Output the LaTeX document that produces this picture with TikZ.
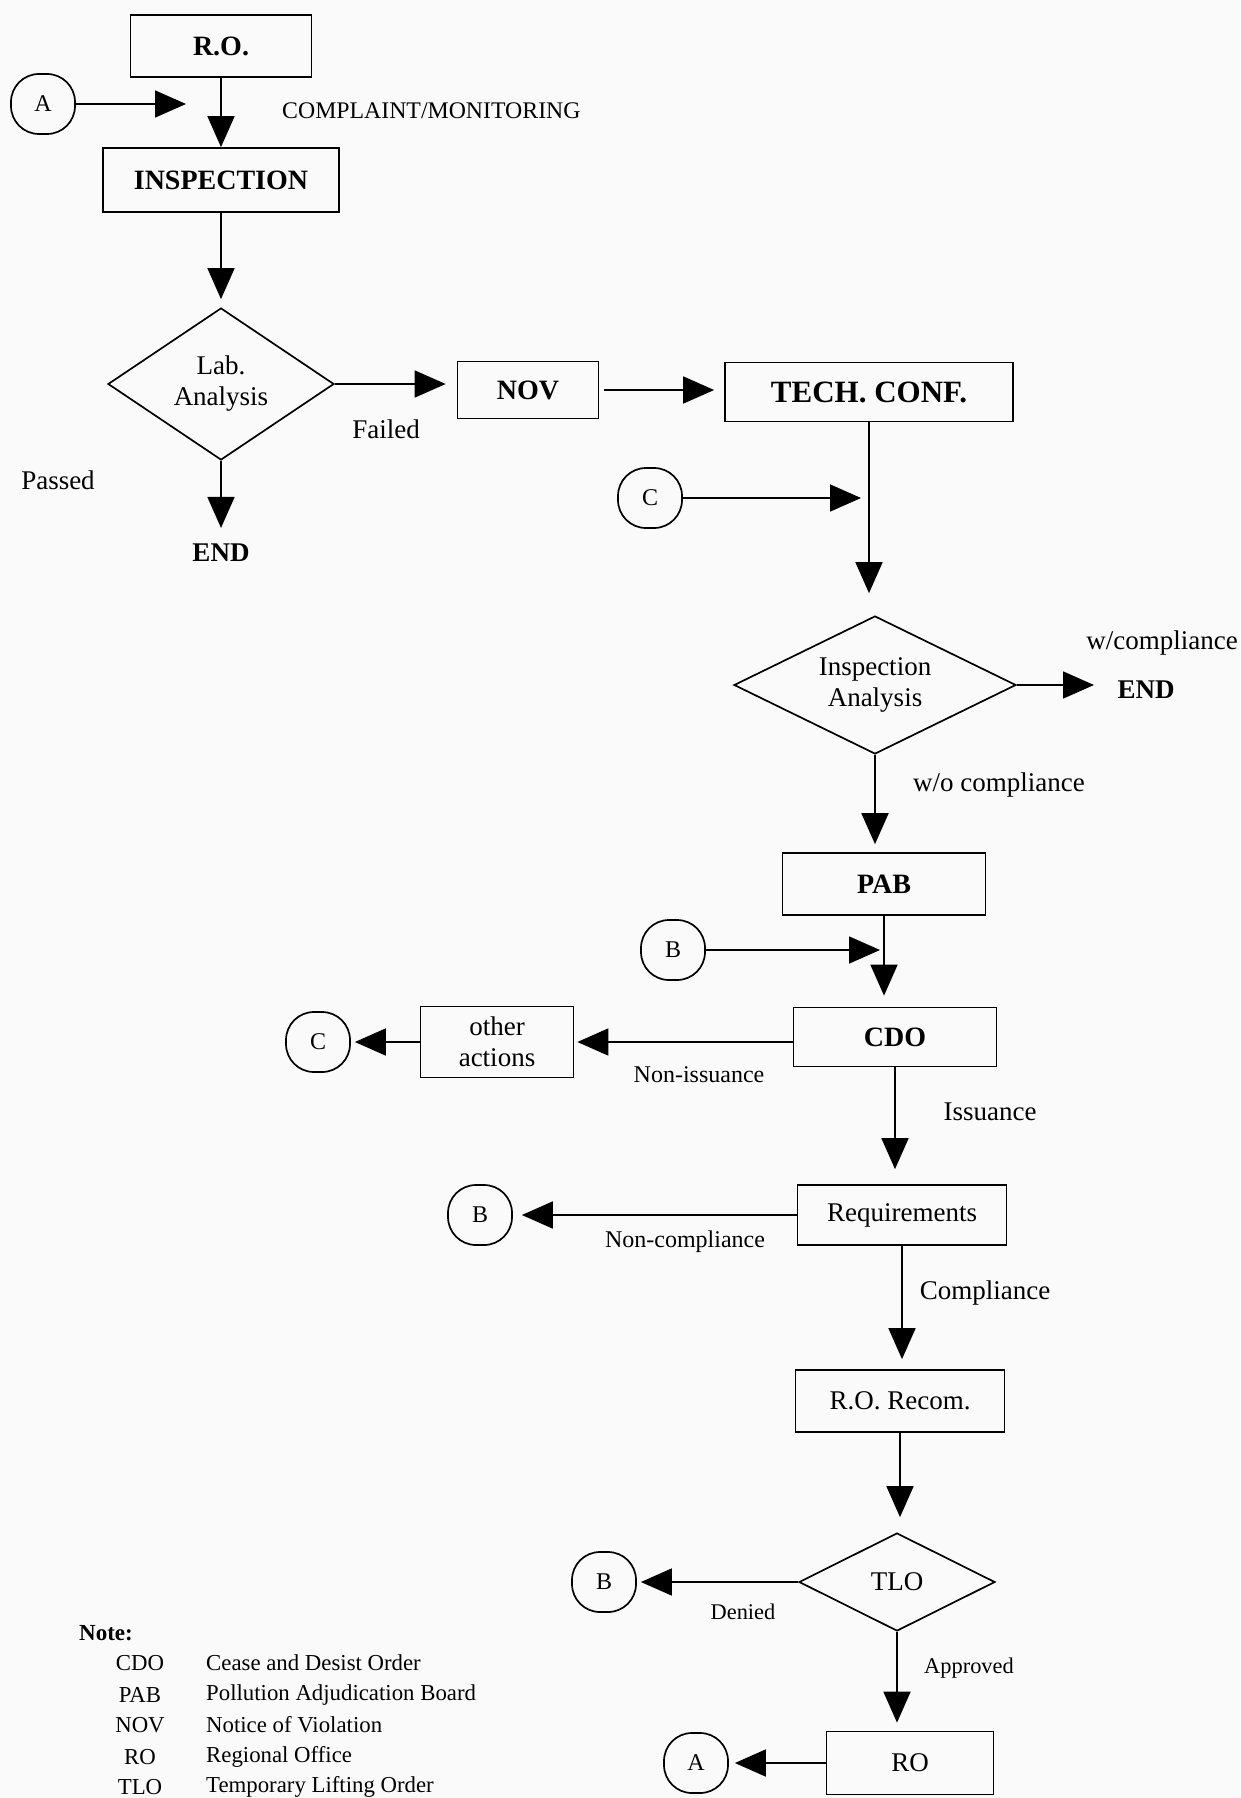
\documentclass[tikz,border=0pt]{standalone}
\usepackage{fontspec}
\setmainfont{Liberation Serif}
\usetikzlibrary{arrows.meta,shapes.geometric}
\begin{document}
\begin{tikzpicture}[x=1pt,y=-1pt,
  every node/.style={inner sep=0pt, font=\fontsize{27}{31}\selectfont},
  box/.style={draw, line width=1.7pt, rectangle, align=center},
  bbox/.style={box, font=\fontsize{28}{32}\selectfont\bfseries},
  dia/.style={draw, line width=1.7pt, diamond, align=center, aspect=2},
  conn/.style={draw, line width=1.7pt, rounded corners=28pt, minimum width=64pt, minimum height=60pt, font=\fontsize{24}{28}\selectfont},
  lbl/.style={font=\fontsize{24}{28}\selectfont},
  slbl/.style={font=\fontsize{22.4}{26}\selectfont},
  endtxt/.style={font=\fontsize{27}{31}\selectfont\bfseries},
  arr/.style={line width=1.7pt, -{Triangle[length=31pt,width=27pt]}},
  abbr/.style={font=\fontsize{22.8}{26}\selectfont},
  desc/.style={anchor=west, font=\fontsize{22.8}{26}\selectfont}]
\fill[gray!4] (0,0) rectangle (1240,1798);
\useasboundingbox (0,0) rectangle (1240,1798);

% top left column
\node[bbox, minimum width=181pt, minimum height=62pt] (ro) at (221,46) {R.O.};
\node[conn] (a1) at (43,104) {A};
\coordinate (a1end) at (186,104);
\draw[arr] (a1) -- (a1end);
\node[anchor=west, font=\fontsize{23.8}{27}\selectfont] (cm) at (282,111) {COMPLAINT/MONITORING};
\node[bbox, minimum width=236pt, minimum height=64pt] (insp) at (221,180) {INSPECTION};
\draw[arr] (ro.south) -- (insp.north);
\node[dia, minimum width=226pt, minimum height=152pt] (lab) at (221,384) {Lab.\\Analysis};
\draw[arr, shorten >=8pt] (insp.south) -- (lab.north);
\node[bbox, minimum width=141pt, minimum height=57pt] (nov) at (528,390) {NOV};
\draw[arr, shorten >=11pt] (lab.east) -- (lab.east -| nov.west);
\node (failed) at (386,429) {Failed};
\node (passed) at (58,480) {Passed};
\node[endtxt] (end1) at (221,553) {END};
\draw[arr, shorten >=16pt] (lab.south) -- (end1.north);

% tech conf
\node[bbox, minimum width=288pt, minimum height=59pt, font=\fontsize{31}{35}\selectfont\bfseries] (tech) at (869,392) {TECH. CONF.};
\draw[arr, shorten <=5pt, shorten >=10pt] (nov.east) -- (nov.east -| tech.west);
\node[dia, minimum width=282pt, minimum height=138pt] (ia) at (875,685) {Inspection\\Analysis};
\draw[arr, shorten >=22pt] (tech.south) -- (tech.south |- ia.north);
\node[conn] (c1) at (650,498) {C};
\draw[arr, shorten >=8pt] (c1.east) -- (c1.east -| tech.south);
\node[endtxt] (end2) at (1146,690) {END};
\draw[arr, shorten >=52pt] (ia.east) -- (ia.east -| end2.center);
\node (wc) at (1162,643) {w/compliance};
\node (woc) at (999,785) {w/o compliance};

% PAB / CDO
\node[bbox, minimum width=203pt, minimum height=62pt] (pab) at (884,884) {PAB};
\draw[arr, shorten >=8pt] (ia.south) -- (ia.south |- pab.north);
\node[conn] (b1) at (673,950) {B};
\draw[arr, shorten >=4pt] (b1.east) -- (b1.east -| pab.south);
\node[bbox, minimum width=203pt, minimum height=59pt] (cdo) at (895,1037) {CDO};
\draw[arr, shorten >=11pt] (pab.south) -- (pab.south |- cdo.north);
\node[box, minimum width=153pt, minimum height=71pt] (oth) at (497,1042) {other\\actions};
\draw[arr, shorten >=3pt] (cdo.west |- oth.east) -- (oth.east);
\node[conn] (c2) at (318,1042) {C};
\draw[arr, shorten >=4pt] (oth.west) -- (c2.east);
\node[lbl] (noniss) at (699,1075) {Non-issuance};
\node (iss) at (990,1112) {Issuance};

% requirements
\node[box, minimum width=209pt, minimum height=60pt] (req) at (902,1215) {Requirements};
\draw[arr, shorten >=15pt] (cdo.south) -- (cdo.south |- req.north);
\node[conn] (b2) at (480,1215) {B};
\draw[arr, shorten >=9pt] (req.west) -- (b2.east);
\node[lbl] (noncomp) at (685,1242) {Non-compliance};
\node (comp) at (985,1293) {Compliance};

% recom / TLO / RO
\node[box, minimum width=209pt, minimum height=62pt] (rec) at (900,1401) {R.O. Recom.};
\draw[arr, shorten >=10pt] (req.south) -- (req.south |- rec.north);
\node[dia, minimum width=196pt, minimum height=98pt] (tlo) at (897,1582) {TLO};
\draw[arr, shorten >=15pt] (rec.south) -- (rec.south |- tlo.north);
\node[conn] (b3) at (604,1582) {B};
\draw[arr, shorten >=4pt] (tlo.west) -- (b3.east);
\node[slbl] (denied) at (743,1612) {Denied};
\node[slbl] (appr) at (969,1668) {Approved};
\node[box, minimum width=167pt, minimum height=63pt] (ro2) at (910,1763) {RO};
\draw[arr, shorten >=8pt] (tlo.south) -- (tlo.south |- ro2.north);
\node[conn] (a2) at (696,1763) {A};
\draw[arr, shorten >=6pt] (ro2.west) -- (a2.east);

% legend
\node[anchor=west, font=\fontsize{23}{26}\selectfont\bfseries] (note) at (79,1633) {Note:};
\node[abbr] (l1a) at (140,1663) {CDO};
\node[desc] (l1b) at (206,1663) {Cease and Desist Order};
\node[abbr] (l2a) at (140,1695) {PAB};
\node[desc] (l2b) at (206,1695) {Pollution Adjudication Board};
\node[abbr] (l3a) at (140,1725) {NOV};
\node[desc] (l3b) at (206,1725) {Notice of Violation};
\node[abbr] (l4a) at (140,1757) {RO};
\node[desc] (l4b) at (206,1757) {Regional Office};
\node[abbr] (l5a) at (140,1787) {TLO};
\node[desc] (l5b) at (206,1787) {Temporary Lifting Order};
\end{tikzpicture}
\end{document}
